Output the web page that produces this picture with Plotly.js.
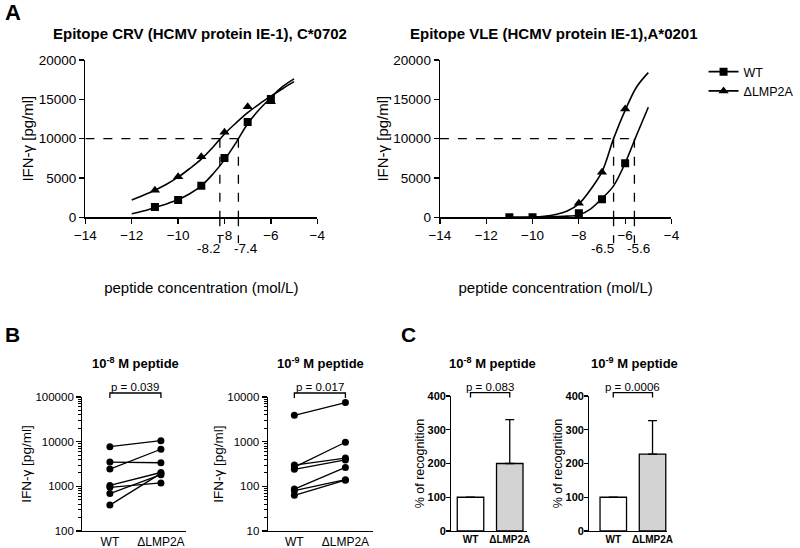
<!DOCTYPE html>
<html><head><meta charset="utf-8">
<script src="https://cdn.plot.ly/plotly-3.0.1.min.js"></script>
<style>html,body{margin:0;padding:0;background:#fff}#chart{width:800px;height:548px}</style>
</head><body><div id="chart"></div>
<script>
// ---------- Panel A: dose-response ----------
const doseX = [-11, -10, -9, -8, -7, -6];
const crvWT = [1310, 2200, 4020, 7540, 12120, 15040];
const crvDelta = [3430, 5170, 7710, 10810, 14060, 14700];
const fitXcrv = [-12, -11.5, -11, -10.5, -10, -9.5, -9, -8.5, -8, -7.5, -7, -6.5, -6, -5.5, -5];
const fitCrvWT = [450, 800, 1250, 1700, 2250, 3000, 4000, 5500, 7300, 9500, 11900, 13700, 15200, 16600, 17600];
const fitCrvDelta = [2200, 2800, 3450, 4200, 5100, 6200, 7400, 8900, 10600, 12000, 13300, 14400, 15400, 16350, 17250];
const crvEC50 = [-8.2, -7.4];

const vleXWT = [-11, -10, -8, -7, -6];
const vleWT = [0, 0, 510, 2290, 6860];
const vleXDelta = [-8, -7, -6];
const vleDelta = [1780, 5720, 13770];
const fitXvle = [-11, -10, -9.5, -9, -8.5, -8, -7.5, -7, -6.5, -6, -5.5, -5];
const fitVleWT = [0, 10, 30, 80, 150, 300, 1050, 2400, 4000, 6900, 10500, 14000];
const fitVleDelta = [0, 30, 120, 350, 800, 1700, 3500, 5800, 10000, 13600, 16600, 18400];
const vleEC50 = [-6.5, -5.6];
const threshold = 10000;
const xRangeA = [-14, -4];
const yRangeA = [0, 20000];

// ---------- Panel B: paired donors ----------
const groups = ['WT', 'ΔLMP2A'];
const b8WT = [7740, 3490, 2430, 1050, 950, 690, 380];
const b8Delta = [10500, 3370, 6760, 2040, 1190, 1820, 1950];
const b9WT = [3900, 300, 270, 240, 87, 80, 63];
const b9Delta = [7500, 430, 970, 390, 265, 141, 137];

// ---------- Panel C: % recognition ----------
const c8Mean = [100, 200];
const c8Err = [0, 130];
const c9Mean = [100, 228];
const c9Err = [0, 99];

const pLabels = ['p = 0.039', 'p = 0.017', 'p = 0.083', 'p = 0.0006'];
const titlesA = ['Epitope CRV (HCMV protein IE-1), C*0702', 'Epitope VLE (HCMV protein IE-1),A*0201'];
const titlesBC = ['10<sup>-8</sup> M peptide', '10<sup>-9</sup> M peptide'];

const FONT = 'Liberation Sans, Arial, Helvetica, sans-serif';
const BLACK = '#000';
const traces = [];

function fitTrace(x, y, xa, ya) {
  return {x: x, y: y, xaxis: xa, yaxis: ya, type: 'scatter', mode: 'lines',
    line: {color: BLACK, width: 1.6, shape: 'spline', smoothing: 1}, showlegend: false, hoverinfo: 'skip'};
}
function ptTrace(x, y, xa, ya, sym, name) {
  return {x: x, y: y, xaxis: xa, yaxis: ya, type: 'scatter', mode: 'markers', name: name,
    marker: {symbol: sym, size: sym === 'square' ? 8 : 9, color: BLACK}, showlegend: false};
}
traces.push(fitTrace(fitXcrv, fitCrvWT, 'x', 'y'));
traces.push(fitTrace(fitXcrv, fitCrvDelta, 'x', 'y'));
traces.push(ptTrace(doseX, crvDelta, 'x', 'y', 'triangle-up', 'ΔLMP2A'));
traces.push(ptTrace(doseX, crvWT, 'x', 'y', 'square', 'WT'));
traces.push(fitTrace(fitXvle, fitVleWT, 'x2', 'y2'));
traces.push(fitTrace(fitXvle, fitVleDelta, 'x2', 'y2'));
traces.push(ptTrace(vleXDelta, vleDelta, 'x2', 'y2', 'triangle-up', 'ΔLMP2A'));
traces.push(ptTrace(vleXWT, vleWT, 'x2', 'y2', 'square', 'WT'));
// legend entries
traces.push({x: [null], y: [null], xaxis: 'x2', yaxis: 'y2', type: 'scatter', mode: 'lines+markers', name: 'WT',
  line: {color: BLACK, width: 1.6}, marker: {symbol: 'square', size: 8, color: BLACK}, showlegend: true});
traces.push({x: [null], y: [null], xaxis: 'x2', yaxis: 'y2', type: 'scatter', mode: 'lines+markers', name: 'ΔLMP2A',
  line: {color: BLACK, width: 1.6}, marker: {symbol: 'triangle-up', size: 9, color: BLACK}, showlegend: true});

function pairTraces(wt, dl, xa, ya) {
  for (let i = 0; i < wt.length; i++) {
    traces.push({x: groups, y: [wt[i], dl[i]], xaxis: xa, yaxis: ya, type: 'scatter', mode: 'lines+markers',
      line: {color: BLACK, width: 1.3}, marker: {symbol: 'circle', size: 7, color: BLACK}, showlegend: false, cliponaxis: false});
  }
}
pairTraces(b8WT, b8Delta, 'x3', 'y3');
pairTraces(b9WT, b9Delta, 'x4', 'y4');

function barTrace(mean, err, xa, ya) {
  return {x: groups, y: mean, xaxis: xa, yaxis: ya, type: 'bar', width: 0.675,
    marker: {color: ['#ffffff', '#d3d3d3'], line: {color: BLACK, width: 1.3}},
    error_y: {type: 'data', symmetric: false, array: err, arrayminus: [0, 0], color: BLACK, thickness: 1.3, width: 4.5},
    showlegend: false};
}
traces.push(barTrace(c8Mean, c8Err, 'x5', 'y5'));
traces.push(barTrace(c9Mean, c9Err, 'x6', 'y6'));

const axBase = {showgrid: false, zeroline: false, showline: true, linecolor: BLACK, linewidth: 1.3,
  ticks: 'outside', ticklen: 5, tickwidth: 1.3, tickcolor: BLACK, fixedrange: true};
function merge(a, b) { return Object.assign({}, a, b); }

const domYA = [1 - 217.3 / 548, 1 - 60 / 548];
const domYB = [1 - 531 / 548, 1 - 397 / 548];
const domYC = [1 - 531 / 548, 1 - 396 / 548];

const xA = {range: xRangeA, dtick: 2, tick0: -14, tickfont: {family: FONT, size: 13.5, color: BLACK},
  title: {text: 'peptide concentration (mol/L)', font: {family: FONT, size: 15, color: BLACK}, standoff: 40}};
const yA = {range: yRangeA, dtick: 5000, tickformat: 'd', tickfont: {family: FONT, size: 13.5, color: BLACK},
  title: {text: 'IFN-γ [pg/ml]', font: {family: FONT, size: 15, color: BLACK}, standoff: 1}};
const xB = {type: 'category', ticks: '', ticklen: 0, ticklabelstandoff: -1, tickfont: {family: FONT, size: 12, color: BLACK}};
const yB = {type: 'log', dtick: 1, tickformat: 'd', exponentformat: 'none', separatethousands: false,
  tickfont: {family: FONT, size: 11.5, color: BLACK},
  minor: {ticks: 'outside', ticklen: 3, tickwidth: 1, tickcolor: BLACK, dtick: 'D1', showgrid: false},
  title: {text: 'IFN-γ [pg/ml]', font: {family: FONT, size: 13.5, color: BLACK}, standoff: 0}};
const xC = {type: 'category', ticks: '', ticklen: 0, ticklabelstandoff: -1, tickfont: {family: FONT, size: 10, color: BLACK, weight: 'bold'}};
const yC = {range: [0, 400], dtick: 100, ticklen: 4, ticklabelstandoff: -2, tickfont: {family: FONT, size: 11, color: BLACK, weight: 'bold'},
  title: {text: '% of recognition', font: {family: FONT, size: 12.5, color: BLACK}, standoff: 0}};

const layout = {
  width: 800, height: 548, margin: {l: 0, r: 0, t: 0, b: 0}, paper_bgcolor: '#fff', plot_bgcolor: 'rgba(0,0,0,0)',
  font: {family: FONT, color: BLACK}, hovermode: false,
  xaxis: merge(axBase, merge(xA, {domain: [87 / 800, 323.3 / 800], anchor: 'y'})),
  yaxis: merge(axBase, merge(yA, {domain: domYA, anchor: 'x'})),
  xaxis2: merge(axBase, merge(xA, {domain: [448.3 / 800, 684.3 / 800], anchor: 'y2'})),
  yaxis2: merge(axBase, merge(yA, {domain: domYA, anchor: 'x2'})),
  xaxis3: merge(axBase, merge(xB, {domain: [84 / 800, 190 / 800], range: [-0.538, 1.5], anchor: 'y3'})),
  yaxis3: merge(axBase, merge(yB, {domain: domYB, range: [2, 5], anchor: 'x3'})),
  xaxis4: merge(axBase, merge(xB, {domain: [273 / 800, 380 / 800], range: [-0.519, 1.538], anchor: 'y4'})),
  yaxis4: merge(axBase, merge(yB, {domain: domYB, range: [1, 4], anchor: 'x4'})),
  xaxis5: merge(axBase, merge(xC, {domain: [460 / 800, 537 / 800], range: [-0.4875, 1.4375], anchor: 'y5'})),
  yaxis5: merge(axBase, merge(yC, {domain: domYC, anchor: 'x5'})),
  xaxis6: merge(axBase, merge(xC, {domain: [600.7 / 800, 680 / 800], range: [-0.6075, 1.375], anchor: 'y6'})),
  yaxis6: merge(axBase, merge(yC, {domain: domYC, anchor: 'x6'})),
  showlegend: true,
  legend: {x: 717 / 800, y: 1 - 57 / 548, xanchor: 'left', yanchor: 'top', bgcolor: 'rgba(0,0,0,0)',
    font: {family: FONT, size: 12.5, color: BLACK}, tracegroupgap: 0, itemwidth: 30},
  shapes: [], annotations: []
};

// Dashed EC50 guides
function ec50Guides(ec, xa, ya, shifts) {
  const dash = {color: BLACK, width: 1.3, dash: 'dash'};
  layout.shapes.push({type: 'line', xref: xa, yref: ya, x0: xRangeA[0], x1: Math.max(...ec), y0: threshold, y1: threshold, line: dash});
  ec.forEach((v, i) => {
    layout.shapes.push({type: 'line', xref: xa, yref: ya, x0: v, x1: v, y0: threshold, y1: yRangeA[0], line: dash});
    layout.shapes.push({type: 'line', xref: xa, yref: ya + ' domain', x0: v, x1: v, y0: 0, y1: -0.165, line: dash});
    layout.annotations.push({xref: xa, yref: ya + ' domain', x: v, y: -0.197, text: String(v), showarrow: false,
      xanchor: 'center', yanchor: 'middle', xshift: shifts[i], font: {family: FONT, size: 13.5, color: BLACK}});
  });
}
ec50Guides(crvEC50, 'x', 'y', [-11, 8]);
ec50Guides(vleEC50, 'x2', 'y2', [-11.5, 4.5]);

// Panel letters and titles
function ann(text, x, y, size, bold, extra) {
  layout.annotations.push(Object.assign({xref: 'paper', yref: 'paper', x: x / 800, y: 1 - y / 548, text: text, showarrow: false,
    xanchor: 'center', yanchor: 'middle', font: {family: FONT, size: size, color: BLACK, weight: bold ? 'bold' : 'normal'}}, extra || {}));
}
ann('A', 3, 13, 22, true, {xanchor: 'left'});
ann('B', 3, 334, 21, true, {xanchor: 'left'});
ann('C', 407, 335, 21, true, {xanchor: 'left'});
ann(titlesA[0], 204, 33, 15, true);
ann(titlesA[1], 565, 33, 15, true);
ann(titlesBC[0], 138, 363, 13, true);
ann(titlesBC[1], 327, 363, 13, true);
ann(titlesBC[0], 502, 363, 13, true);
ann(titlesBC[1], 647, 363, 13, true);

// Significance brackets
function bracket(xa, ya, p, domTop) {
  layout.shapes.push({type: 'path', xref: xa, yref: ya + ' domain', path: 'M 0,' + (domTop - 0.037) + ' L 0,' + domTop + ' L 1,' + domTop + ' L 1,' + (domTop - 0.037),
    line: {color: BLACK, width: 1.3}});
  layout.annotations.push({xref: xa, yref: ya + ' domain', x: 0.5, y: domTop + 0.045, text: p, showarrow: false,
    xanchor: 'center', yanchor: 'middle', font: {family: FONT, size: 11.5, color: BLACK}});
}
bracket('x3', 'y3', pLabels[0], 1.03);
bracket('x4', 'y4', pLabels[1], 1.03);
bracket('x5', 'y5', pLabels[2], 1.025);
bracket('x6', 'y6', pLabels[3], 1.025);

Plotly.newPlot('chart', traces, layout, {staticPlot: true, displayModeBar: false});
</script></body></html>
